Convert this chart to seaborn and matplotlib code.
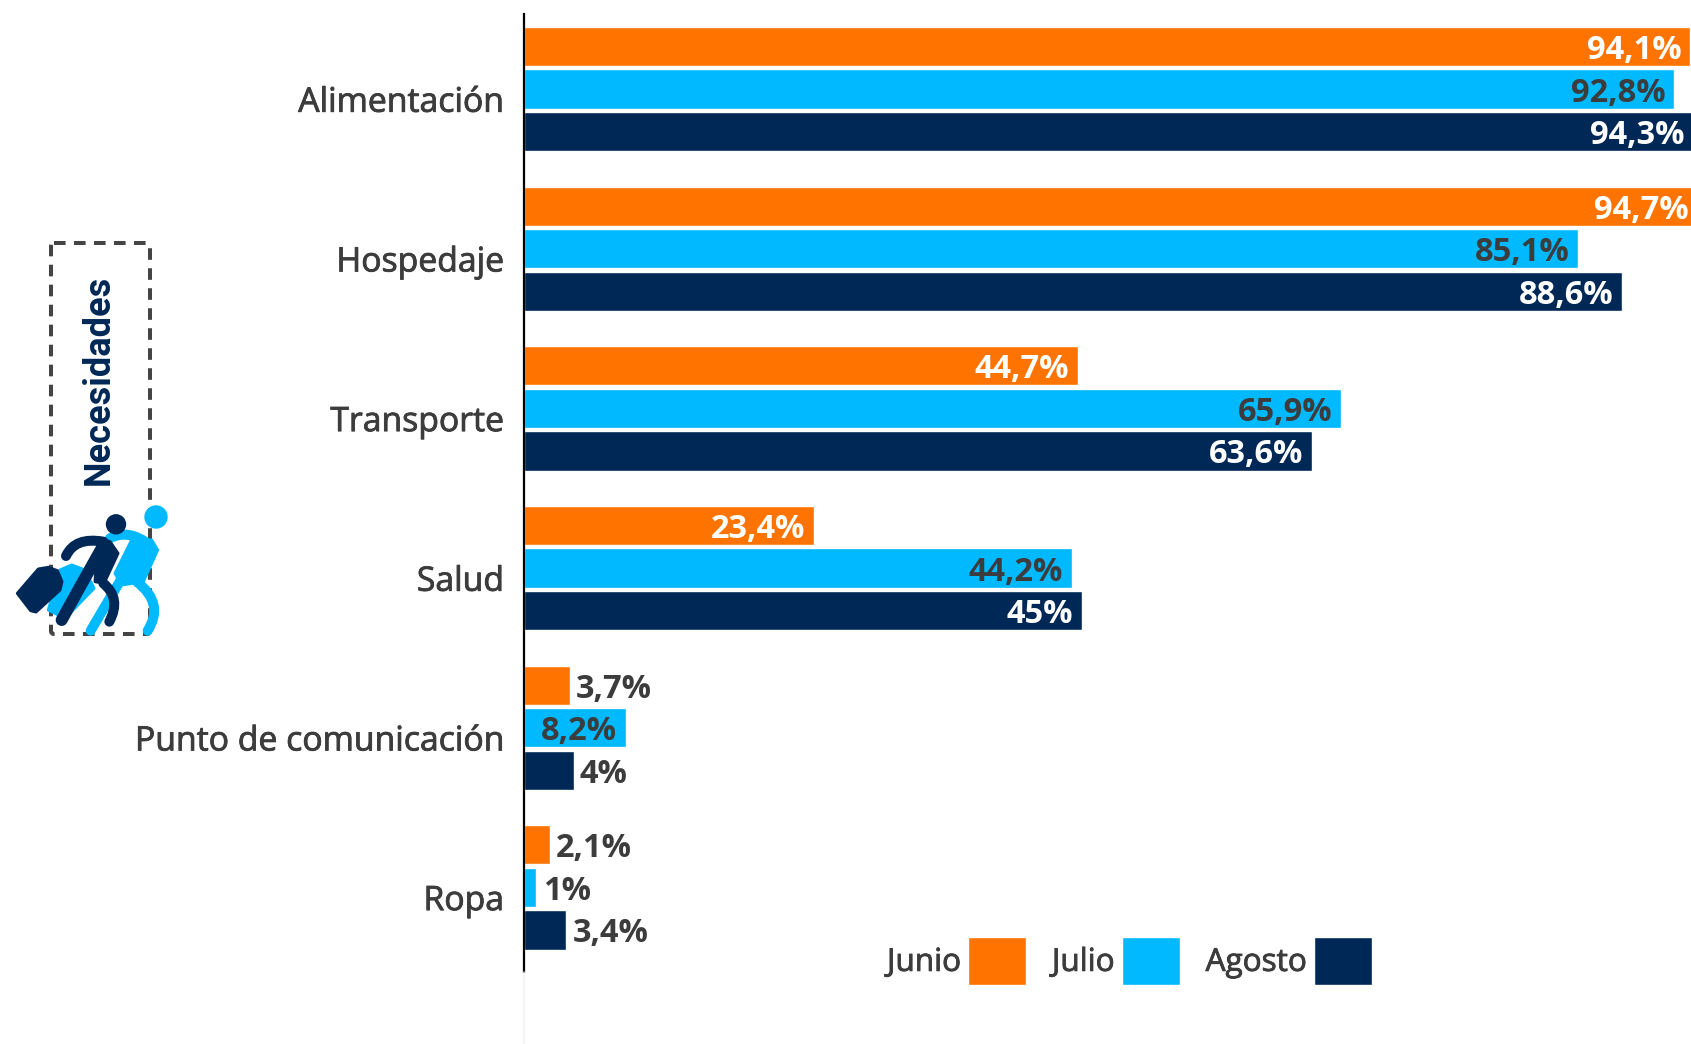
import numpy as np
import pandas as pd
import matplotlib
matplotlib.use('Agg')
import matplotlib.pyplot as plt
import matplotlib.patheffects as pe
import matplotlib.transforms as mtransforms
import seaborn as sns
from matplotlib.patches import Circle, FancyBboxPatch, PathPatch, Polygon
from matplotlib.path import Path

categories = ['Alimentación', 'Hospedaje', 'Transporte', 'Salud', 'Punto de comunicación', 'Ropa']
junio = [94.1, 94.7, 44.7, 23.4, 3.7, 2.1]
julio = [92.8, 85.1, 65.9, 44.2, 8.2, 1.0]
agosto = [94.3, 88.6, 63.6, 45.0, 4.0, 3.4]
months = ['Junio', 'Julio', 'Agosto']

ORANGE = '#FF7300'
BLUE = '#00B9FF'
NAVY = '#002856'
GREY = '#3C3C3C'

data = pd.DataFrame({
    'Necesidad': categories * 3,
    'Mes': np.repeat(months, len(categories)),
    'Valor': junio + julio + agosto,
})

sns.set_theme(style='white')
plt.rcParams['font.family'] = ['Open Sans', 'DejaVu Sans']

W, H = 1691, 1044
fig = plt.figure(figsize=(W / 100, H / 100), dpi=100)
ax = fig.add_axes([524 / W, 1 - 972 / H, 1 - 524 / W, (972 - 14) / H])

sns.barplot(data=data, y='Necesidad', x='Valor', hue='Mes', orient='h',
            palette=[ORANGE, BLUE, NAVY], saturation=1, width=0.8, gap=0.08, ax=ax)

ax.set_xlim(0, 1167 / 12.39)
ax.set_ylim(5.53, -0.47)
ax.set_xlabel('')
ax.set_ylabel('')
ax.set_xticks([])
ax.tick_params(axis='y', length=0, pad=14.5, labelsize=24.3, labelcolor=GREY)
for side in ['top', 'right', 'bottom']:
    ax.spines[side].set_visible(False)
ax.spines['left'].set_color('black')
ax.spines['left'].set_linewidth(1.6)
ax.patch.set_alpha(0)

# the category names sit a little below the middle of each group, and look a bit heavier than regular
shift = mtransforms.ScaledTranslation(0, -7 / 72, fig.dpi_scale_trans)
heavier = [pe.withStroke(linewidth=0.6, foreground=GREY)]
for tick_label in ax.get_yticklabels():
    tick_label.set_transform(tick_label.get_transform() + shift)
    tick_label.set_path_effects(heavier)

# value labels: inside the bar when it is long enough, otherwise just after it
text_colors = ['white', GREY, 'white']
for container, color in zip(ax.containers[:3], text_colors):
    for bar in container:
        value = bar.get_width()
        label = f'{value:g}'.replace('.', ',') + '%'
        y = bar.get_y() + bar.get_height() / 2
        inside = value > 8
        ax.annotate(label, xy=(value, y), xytext=(-6 if inside else 4.5, 0),
                    textcoords='offset points', ha='right' if inside else 'left',
                    va='center_baseline', fontsize=23.5, fontweight='bold',
                    color=color if inside else GREY, annotation_clip=False)

handles, labels = ax.get_legend_handles_labels()
legend = ax.legend(handles, labels, ncol=3, markerfirst=False, frameon=False,
                   loc='lower left', bbox_to_anchor=(887 / W, 1 - 985 / H),
                   bbox_transform=fig.transFigure, fontsize=22.7, labelcolor=GREY,
                   handlelength=1.84, handleheight=1.98, handletextpad=0.22,
                   columnspacing=0.82, borderpad=0, borderaxespad=0)
for legend_text in legend.get_texts():
    legend_text.set_path_effects(heavier)

# overlay in pixel coordinates for the side box and the pictogram
deco = fig.add_axes([0, 0, 1, 1])
deco.set_xlim(0, W)
deco.set_ylim(H, 0)
deco.axis('off')

px = 0.72  # one pixel in points
deco.plot([524, 524], [972, H], color='#F2F2F2', lw=1.5 * px)

box = FancyBboxPatch((51, 243), 99, 391, boxstyle='round,pad=0,rounding_size=3',
                     fill=False, edgecolor='#444444', lw=4 * px,
                     linestyle=(0, (2.9, 2.1)))
deco.add_patch(box)
deco.text(99, 380, 'Necesidades', rotation=90, ha='center', va='center',
          fontsize=26, fontweight='bold', color=NAVY,
          family=['Roboto', 'DejaVu Sans'])


def pt(points):
    return [(x / 3, 220 + y / 3) for x, y in points]


def stroke(points, color, width, z):
    # thick round-ended line through control points
    codes = [Path.MOVETO] + [Path.CURVE3] * (len(points) - 1)
    deco.add_patch(PathPatch(Path(pt(points), codes), fill=False, edgecolor=color,
                             lw=width * px, capstyle='round', zorder=z))


def blob(points, color, z):
    deco.add_patch(Polygon(pt(points), facecolor=color, edgecolor=color,
                           lw=3 * px, joinstyle='round', zorder=z))


# blue figure
deco.add_patch(Circle((156, 517), 11, color=BLUE, zorder=4))
stroke([(330, 955), (385, 925), (450, 975)], BLUE, 10, 4)
blob([(395, 960), (455, 960), (473, 990), (430, 1085), (365, 1095), (345, 1060)], BLUE, 4)
stroke([(365, 1075), (320, 1150), (272, 1232)], BLUE, 10, 4)
stroke([(410, 1085), (495, 1150), (443, 1232)], BLUE, 10, 4)

# white gap between the two figures, the bag is drawn after it
stroke([(310, 985), (255, 1100), (200, 1200)], 'white', 16, 4.2)
blob([(145, 1170), (180, 1050), (215, 1035), (255, 1050), (282, 1105), (195, 1195)], BLUE, 4.4)

# navy figure
deco.add_patch(Circle(pt([(348, 913)])[0], 9.5, color=NAVY, zorder=5))
stroke([(198, 1008), (225, 950), (310, 965)], NAVY, 10, 5)
blob([(295, 955), (330, 965), (354, 1000), (312, 1090), (285, 1085)], NAVY, 5)
stroke([(305, 985), (240, 1100), (185, 1200)], NAVY, 12, 5)
stroke([(310, 1090), (365, 1135), (328, 1205)], NAVY, 10, 5)
blob([(52, 1120), (115, 1047), (145, 1042), (172, 1052), (186, 1085), (180, 1110),
      (108, 1176), (92, 1172)], NAVY, 5)

fig.savefig('out.png', dpi=100, facecolor='white')
